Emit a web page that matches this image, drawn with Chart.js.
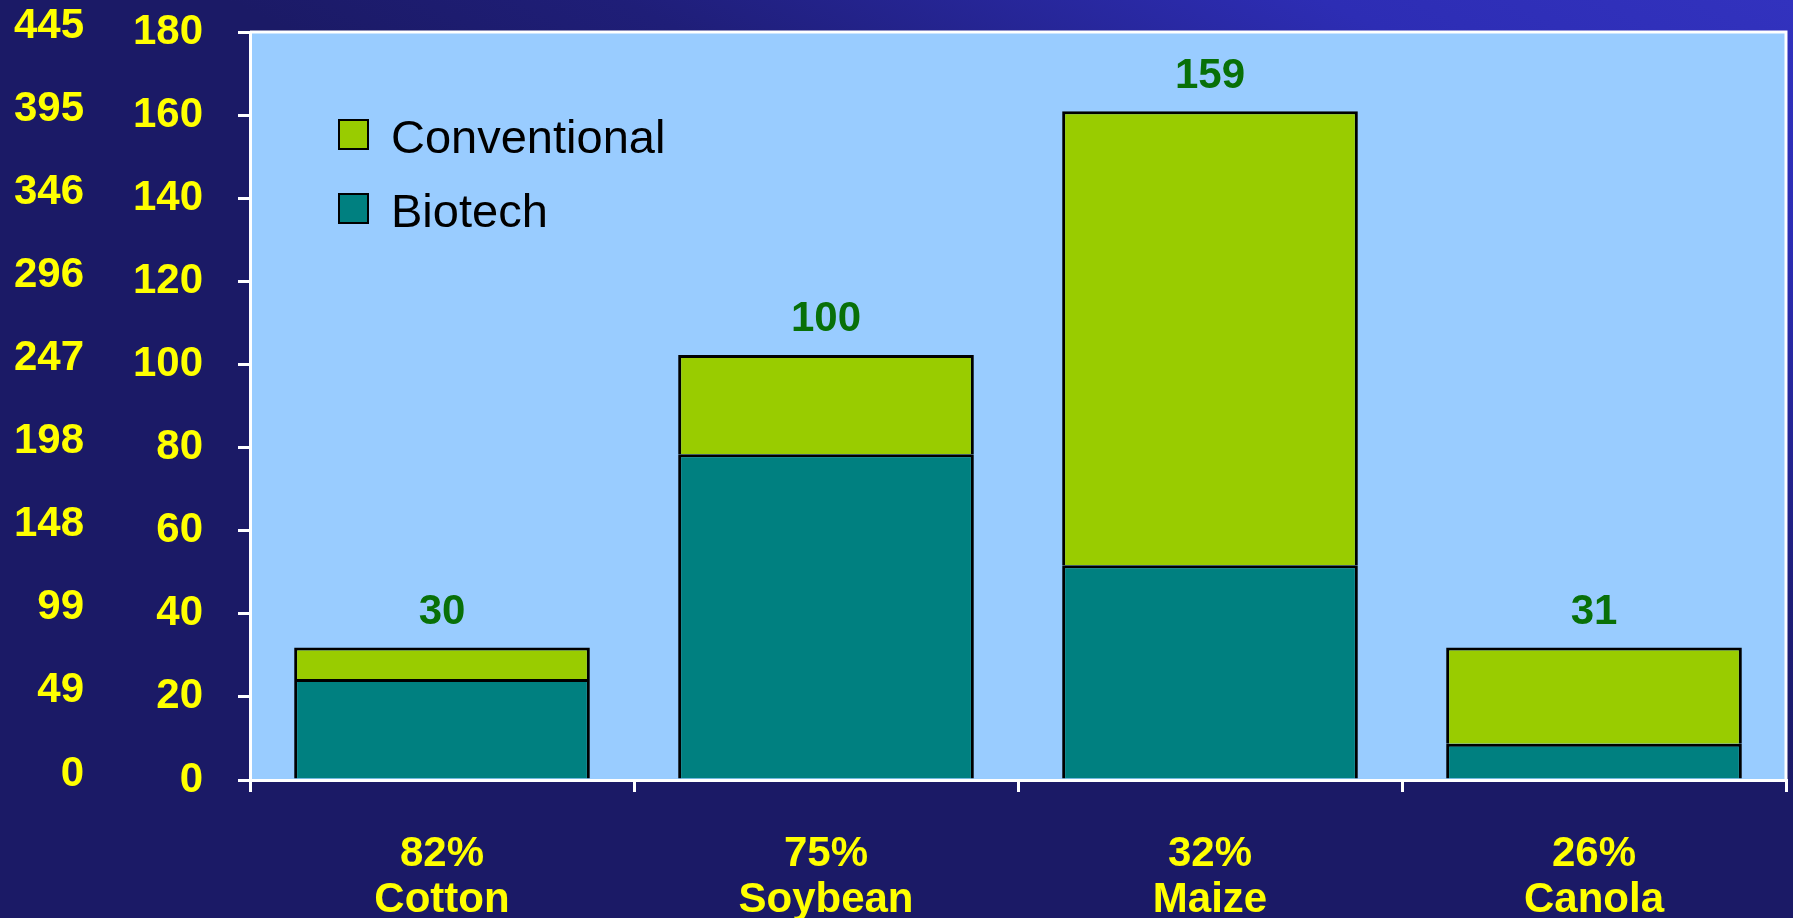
<!DOCTYPE html>
<html><head><meta charset="utf-8">
<script src="https://cdn.jsdelivr.net/npm/chart.js@4.4.0/dist/chart.umd.min.js"></script>
<style>html,body{margin:0;padding:0;background:#1b1a66;overflow:hidden}#wrap{width:1793px;height:918px;position:relative}</style>
</head><body><div id="wrap"><canvas id="c"></canvas></div>
<script>
const crops = ['Cotton', 'Soybean', 'Maize', 'Canola'];
const biotechShare = ['82%', '75%', '32%', '26%'];
const biotech = [24.3, 78.4, 51.7, 8.7];
const conventional = [7.6, 23.9, 109.2, 23.2];
const totalLabels = ['30', '100', '159', '31'];
const hectareTicks = ['0', '20', '40', '60', '80', '100', '120', '140', '160', '180'];
const acreTicks = ['0', '49', '99', '148', '198', '247', '296', '346', '395', '445'];

const FONT = "'Liberation Sans', Arial, sans-serif";
Chart.defaults.font.family = FONT;

const deco = {
  id: 'deco',
  beforeDraw(chart) {
    const { ctx, chartArea: a, width, height } = chart;
    ctx.save();
    const g = ctx.createLinearGradient(width, 0, width - 324, 634);
    g.addColorStop(0, '#3232be');
    g.addColorStop(0.3, '#2d2db4');
    g.addColorStop(0.75, '#1f1e78');
    g.addColorStop(1, '#1b1a66');
    ctx.fillStyle = g;
    ctx.fillRect(0, 0, width, height);
    ctx.fillStyle = '#99ccff';
    ctx.fillRect(a.left, a.top, a.right - a.left, a.bottom - a.top);
    ctx.strokeStyle = '#ffffff';
    ctx.lineWidth = 3;
    ctx.beginPath();
    ctx.moveTo(a.left, a.top);
    ctx.lineTo(a.right, a.top);
    ctx.lineTo(a.right, a.bottom);
    ctx.stroke();
    ctx.restore();
  },
  afterDatasetsDraw(chart) {
    const { ctx, chartArea: a } = chart;
    ctx.save();
    const meta = chart.getDatasetMeta(chart.data.datasets.length - 1);
    ctx.font = 'bold 42px ' + FONT;
    ctx.fillStyle = '#087008';
    ctx.textAlign = 'center';
    ctx.textBaseline = 'middle';
    meta.data.forEach((el, i) => ctx.fillText(totalLabels[i], el.x, el.y - 35));
    const items = chart.data.datasets.slice().reverse();
    items.forEach((ds, k) => {
      const y0 = a.top + 88 + k * 74;
      const x0 = a.left + 89;
      ctx.fillStyle = ds.backgroundColor;
      ctx.fillRect(x0, y0, 29, 29);
      ctx.strokeStyle = '#000';
      ctx.lineWidth = 2;
      ctx.strokeRect(x0, y0, 29, 29);
      ctx.fillStyle = '#000';
      ctx.font = '47px ' + FONT;
      ctx.textAlign = 'left';
      ctx.textBaseline = 'alphabetic';
      ctx.fillText(ds.label, a.left + 141, y0 + 33);
    });
    ctx.restore();
  }
};

new Chart(document.getElementById('c'), {
  type: 'bar',
  data: {
    labels: crops.map((c, i) => [biotechShare[i], c]),
    datasets: [
      { label: 'Biotech', data: biotech, backgroundColor: '#008080', borderColor: '#000', borderWidth: 3 },
      { label: 'Conventional', data: conventional, backgroundColor: '#99cc00', borderColor: '#000', borderWidth: 3 }
    ]
  },
  options: {
    responsive: true,
    maintainAspectRatio: false,
    animation: false,
    devicePixelRatio: 1,
    layout: { padding: { top: 32, right: 7, left: 0, bottom: 0 } },
    datasets: { bar: { barPercentage: 0.77, categoryPercentage: 1 } },
    plugins: { legend: { display: false }, tooltip: { enabled: false } },
    scales: {
      x: {
        stacked: true,
        grid: { display: true, drawOnChartArea: false, color: '#ffffff', lineWidth: 3, tickLength: 12, offset: true },
        border: { display: true, color: '#ffffff', width: 3 },
        ticks: { color: '#ffff00', font: { size: 42, weight: 'bold', lineHeight: 1.1 }, padding: 39, maxRotation: 0, autoSkip: false },
        afterFit(s) { s.height = 138; }
      },
      y: {
        stacked: true,
        position: 'left',
        weight: 1,
        min: 0, max: 180,
        ticks: { stepSize: 20, color: '#ffff00', font: { size: 42, weight: 'bold' }, padding: 35, callback: (v, i) => hectareTicks[i] },
        grid: { drawOnChartArea: false, color: '#ffffff', lineWidth: 3, tickLength: 12 },
        border: { display: true, color: '#ffffff', width: 3 },
        afterFit(s) { s.width = 155; s.paddingTop = 0; s.paddingBottom = 0; }
      },
      y2: {
        position: 'left',
        weight: 2,
        min: 0, max: 180,
        ticks: { stepSize: 20, color: '#ffff00', font: { size: 42, weight: 'bold' }, padding: 11, labelOffset: -6, callback: (v, i) => acreTicks[i] },
        grid: { display: false, drawTicks: false, tickLength: 0 },
        border: { display: false },
        afterFit(s) { s.width = 95; s.paddingTop = 0; s.paddingBottom = 0; }
      }
    }
  },
  plugins: [deco]
});
</script>
</body></html>
